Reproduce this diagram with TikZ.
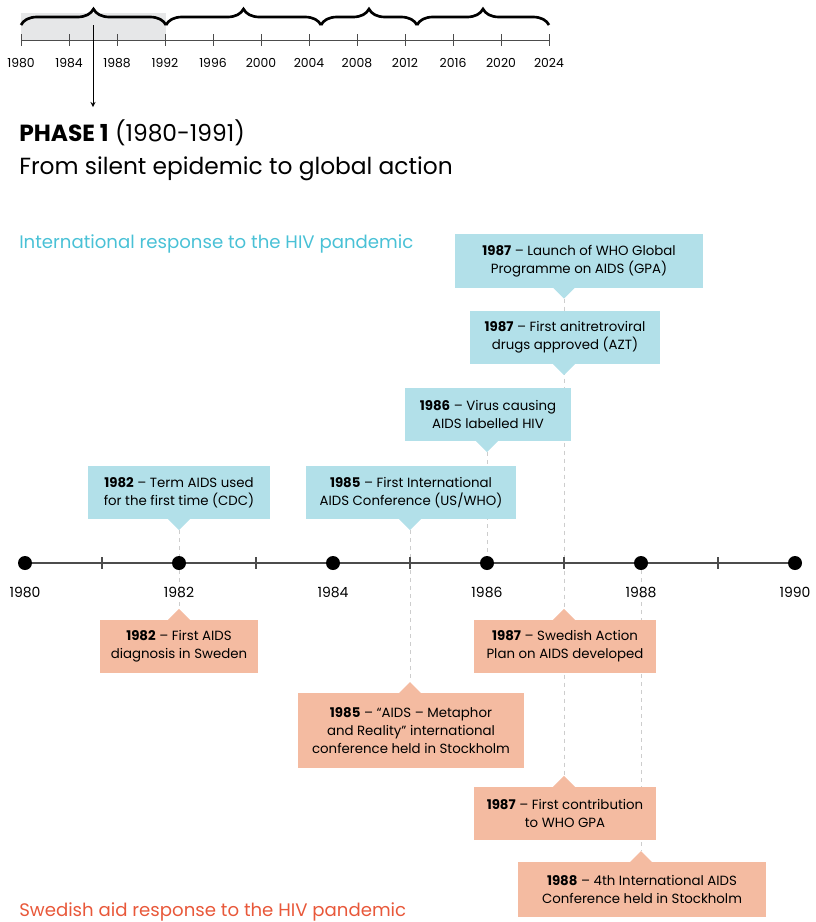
\documentclass[tikz,border=0pt]{standalone}
\usepackage{fontspec}
\setmainfont{Poppins}
\usetikzlibrary{calc,backgrounds,decorations.pathreplacing}
\definecolor{boxblue}{RGB}{178,224,233}
\definecolor{boxorange}{RGB}{244,187,161}
\definecolor{titleblue}{RGB}{73,193,214}
\definecolor{titleorange}{RGB}{232,88,58}
\definecolor{barshade}{RGB}{230,231,232}
\definecolor{guidegrey}{RGB}{205,205,205}

\begin{document}
\begin{tikzpicture}[x=0.75pt,y=-0.75pt,
  evblue/.style={fill=boxblue,align=center,minimum height=40pt,inner sep=2pt,outer sep=0pt,
    font=\fontsize{10}{13.5}\selectfont},
  evorange/.style={evblue,fill=boxorange},
  dot/.style={circle,fill=black,inner sep=0pt,minimum size=10.5pt},
  guide/.style={guidegrey,dashed,line width=0.6pt},
  axis/.style={black!70,line width=0.8pt},
  yearlbl/.style={font=\fontsize{10.5}{12}\selectfont,anchor=base},
  headline/.style={anchor=base west,inner sep=0pt},
  brc/.style={decorate,decoration={brace,amplitude=12pt},line width=2pt}]
\useasboundingbox (0,0) rectangle (815,922);

% overview bar
\fill[barshade] (21,13) rectangle (166,40);
\draw[axis,line width=0.6pt] (21,40) -- (549,40);
\foreach \yr in {1980,1984,...,2024} {
  \draw[axis,line width=0.6pt] ({21+12*(\yr-1980)},34) -- ++(0,12);
  \node[font=\fontsize{9.3}{11}\selectfont,anchor=base] (o\yr) at ({21+12*(\yr-1980)},67.5) {\yr};
}
\draw[brc] (21,25) -- (166,25);
\draw[brc] (166,25) -- (321,25);
\draw[brc] (321,25) -- (417,25);
\draw[brc] (417,25) -- (549,25);
\coordinate (ph) at (93,25);
\coordinate (phend) at (93,107);
\draw[-stealth,line width=0.7pt] (ph) -- (phend);

\node[headline,font=\fontsize{17.5}{20}\selectfont] (phase) at (19,141) {\textbf{PHASE 1} (1980-1991)};
\node[headline,font=\fontsize{17.5}{20}\selectfont] (sub) at (19,174) {From silent epidemic to global action};
\node[headline,titleblue,font=\fontsize{13.6}{16}\selectfont] (intl) at (19,248) {International response to the HIV pandemic};
\node[headline,titleorange,font=\fontsize{13.6}{16}\selectfont] (swe) at (19,916) {Swedish aid response to the HIV pandemic};

% main axis
\draw[axis] (25,563) -- (796,563);
\foreach \yr in {1981,1983,...,1989} {
  \coordinate (k\yr) at ({25+77*(\yr-1980)},563);
  \draw[axis] (k\yr) ++(0,-6) -- ++(0,12);
}
\foreach \yr in {1980,1982,...,1990} {
  \node[dot] (d\yr) at ({25+77*(\yr-1980)},563) {};
  \node[yearlbl] (l\yr) at ({25+77*(\yr-1980)},597) {\yr};
}

% international
\node[evblue,minimum width=186pt] (b1) at (579,261) {\textbf{1987} – Launch of WHO Global\\Programme on AIDS (GPA)};
\node[evblue,minimum width=143pt] (b2) at (565,337.5) {\textbf{1987} – First anitretroviral\\drugs approved (AZT)};
\node[evblue,minimum width=125pt] (b3) at (488,414.5) {\textbf{1986} – Virus causing\\AIDS labelled HIV};
\node[evblue,minimum width=158pt] (b4) at (411,492.5) {\textbf{1985} – First International\\AIDS Conference (US/WHO)};
\node[evblue,minimum width=137pt] (b5) at (179,492.5) {\textbf{1982} – Term AIDS used\\for the first time (CDC)};
\fill[boxblue] (b1.south -| k1987) ++(-11,0) -- ++(22,0) -- ++(-11,11) coordinate (t1) -- cycle;
\fill[boxblue] (b2.south -| k1987) ++(-11,0) -- ++(22,0) -- ++(-11,11) coordinate (t2) -- cycle;
\fill[boxblue] (b3.south -| d1986) ++(-11,0) -- ++(22,0) -- ++(-11,11) coordinate (t3) -- cycle;
\fill[boxblue] (b4.south -| k1985) ++(-11,0) -- ++(22,0) -- ++(-11,11) coordinate (t4) -- cycle;
\fill[boxblue] (b5.south -| d1982) ++(-11,0) -- ++(22,0) -- ++(-11,11) coordinate (t5) -- cycle;

% swedish
\node[evorange,minimum width=119pt] (s1) at (179,646.5) {\textbf{1982} – First AIDS\\diagnosis in Sweden};
\node[evorange,minimum width=170pt,minimum height=56pt] (s2) at (411,730.5) {\textbf{1985} – “AIDS – Metaphor\\and Reality” international\\conference held in Stockholm};
\node[evorange,minimum width=137pt] (s3) at (565,646.5) {\textbf{1987} – Swedish Action\\Plan on AIDS developed};
\node[evorange,minimum width=137pt] (s4) at (565,813.5) {\textbf{1987} – First contribution\\to WHO GPA};
\node[evorange,minimum width=186pt,minimum height=41pt] (s5) at (642,889.5) {\textbf{1988} – 4th International AIDS\\Conference held in Stockholm};
\fill[boxorange] (s1.north -| d1982) ++(-11,0) -- ++(22,0) -- ++(-11,-11) coordinate (u1) -- cycle;
\fill[boxorange] (s2.north -| k1985) ++(-11,0) -- ++(22,0) -- ++(-11,-11) coordinate (u2) -- cycle;
\fill[boxorange] (s3.north -| k1987) ++(-11,0) -- ++(22,0) -- ++(-11,-11) coordinate (u3) -- cycle;
\fill[boxorange] (s4.north -| k1987) ++(-11,0) -- ++(22,0) -- ++(-11,-11) coordinate (u4) -- cycle;
\fill[boxorange] (s5.north -| d1988) ++(-11,0) -- ++(22,0) -- ++(-11,-11) coordinate (u5) -- cycle;

\begin{pgfonlayer}{background}
\draw[guide] (t5) -- (u1);
\draw[guide] (t4) -- (u2);
\draw[guide] (t3) -- (d1986);
\draw[guide] (t1) -- (u4);
\draw[guide] (d1988) -- (u5);
\end{pgfonlayer}
\end{tikzpicture}
\end{document}
